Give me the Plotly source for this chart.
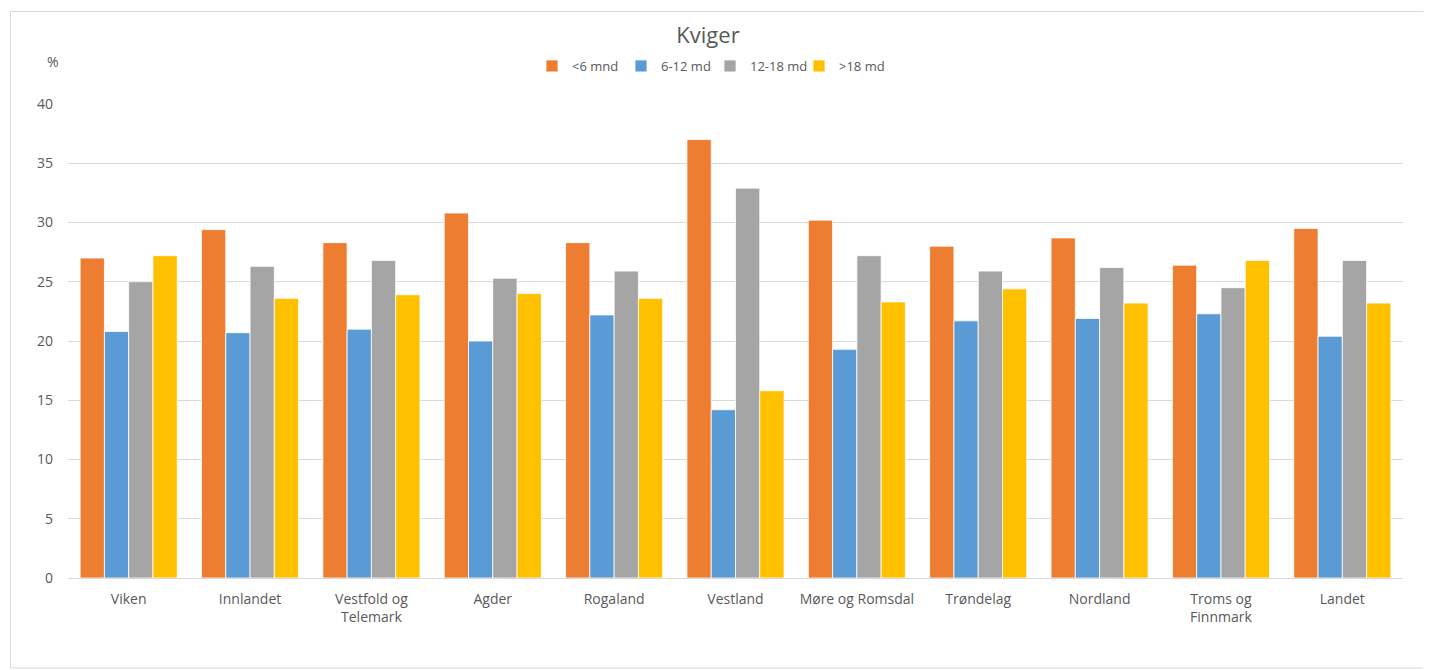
import plotly.graph_objects as go

categories = ["Viken", "Innlandet", "Vestfold og<br>Telemark", "Agder", "Rogaland", "Vestland",
              "Møre og Romsdal", "Trøndelag", "Nordland", "Troms og<br>Finnmark", "Landet"]
series_names = ["<6 mnd", "6-12 md", "12-18 md", ">18 md"]
under_6 = [27.0, 29.4, 28.3, 30.8, 28.3, 37.0, 30.2, 28.0, 28.7, 26.4, 29.5]
m6_12 = [20.8, 20.7, 21.0, 20.0, 22.2, 14.2, 19.3, 21.7, 21.9, 22.3, 20.4]
m12_18 = [25.0, 26.3, 26.8, 25.3, 25.9, 32.9, 27.2, 25.9, 26.2, 24.5, 26.8]
over_18 = [27.2, 23.6, 23.9, 24.0, 23.6, 15.8, 23.3, 24.4, 23.2, 26.8, 23.2]
colors = ["#ED7D31", "#5B9BD5", "#A5A5A5", "#FFC000"]
yticks = [0, 5, 10, 15, 20, 25, 30, 35, 40]

# page has an 8px body margin: figure occupies page pixels 8..1431 / 8..670
OFF = 8
W, H = 1431 - OFF, 670 - OFF
L, R, T, B = 68 - OFF, 28, 104 - OFF, 92
pw = W - L - R
ph = H - T - B

def px_to_paper_x(px):
    return (px - OFF - L) / pw

def py_to_paper_y(py):
    return (H - B - (py - OFF)) / ph

fig = go.Figure()
for name, vals, col in zip(series_names, [under_6, m6_12, m12_18, over_18], colors):
    fig.add_trace(go.Bar(x=categories, y=vals, name=name,
                         marker=dict(color=col, line=dict(color="white", width=0.8))))

font_family = "Open Sans, Liberation Sans, sans-serif"
fig.update_layout(
    width=W, height=H,
    margin=dict(l=L, r=R, t=T, b=B),
    paper_bgcolor="white", plot_bgcolor="white",
    barmode="group", bargap=0.2, bargroupgap=0,
    font=dict(family=font_family, color="#595959", size=14),
    title=dict(text="Kviger", x=px_to_paper_x(708), xref="paper", xanchor="center",
               y=1 - (35 - OFF) / H, yanchor="middle", font=dict(size=22, color="#595959")),
    legend=dict(orientation="h", x=px_to_paper_x(710), xanchor="center",
                y=py_to_paper_y(66), yanchor="middle", font=dict(size=13, color="#595959"),
                itemwidth=30, entrywidth=44, entrywidthmode="pixels",
                traceorder="normal", bgcolor="rgba(0,0,0,0)"),
    xaxis=dict(showgrid=False, showline=True, linecolor="#D9D9D9", linewidth=1,
               ticks="", ticklabelstandoff=8,
               tickfont=dict(size=14, color="#595959"), fixedrange=True),
    yaxis=dict(range=[0, 40], tickvals=yticks, showgrid=True, gridcolor="#D9D9D9",
               gridwidth=1, zeroline=False, showline=False, ticks="",
               ticklabelstandoff=14, tickfont=dict(size=14, color="#595959")),
    shapes=[dict(type="rect", xref="paper", yref="paper",
                 x0=px_to_paper_x(10.5), x1=px_to_paper_x(1425.5),
                 y0=py_to_paper_y(668), y1=py_to_paper_y(11.5),
                 line=dict(color="#D9D9D9", width=1), fillcolor="rgba(0,0,0,0)", layer="below")],
    annotations=[dict(text="%", xref="paper", yref="paper", x=px_to_paper_x(53), y=py_to_paper_y(61),
                      showarrow=False, xanchor="center", yanchor="middle",
                      font=dict(size=14, color="#595959"))],
)

fig.write_html("out.html")
